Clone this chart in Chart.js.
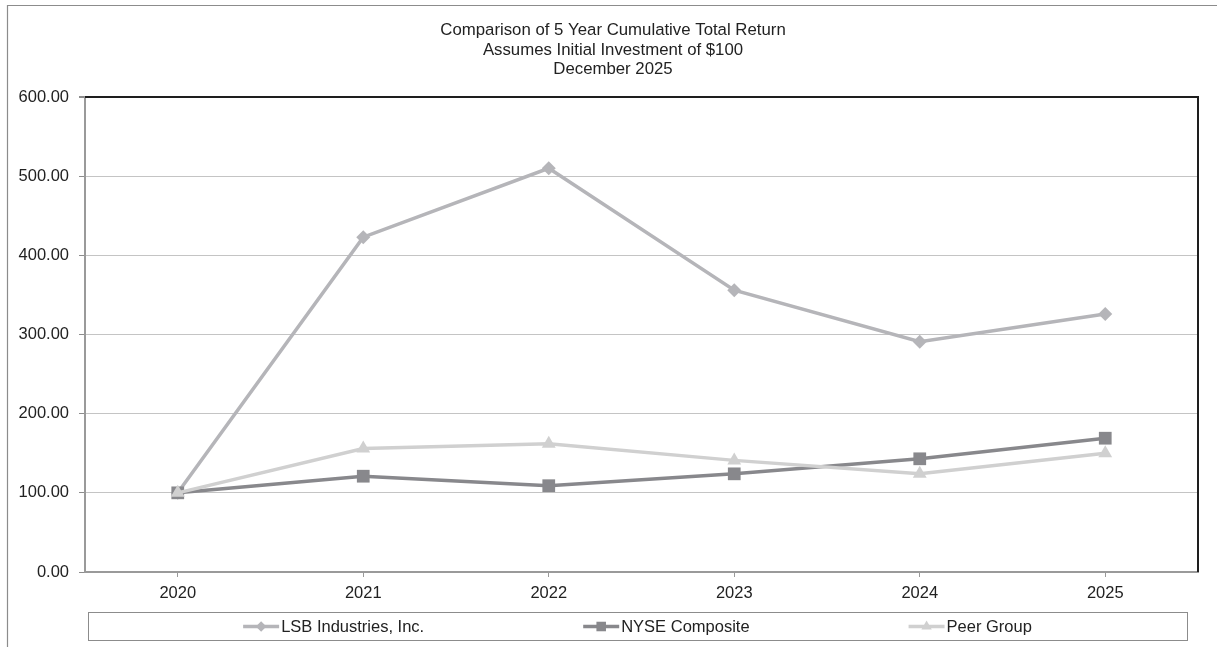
<!DOCTYPE html>
<html><head><meta charset="utf-8">
<script src="https://cdn.jsdelivr.net/npm/chart.js@4/dist/chart.umd.min.js"></script>
<style>
html,body{margin:0;padding:0;background:#fff;}
#wrap{position:absolute;left:0;top:0;width:1217px;height:647px;}
</style></head><body>
<div id="wrap"><canvas id="c"></canvas></div>
<script>
const titleLines = ['Comparison of 5 Year Cumulative Total Return', 'Assumes Initial Investment of $100', 'December 2025'];
const years = ['2020', '2021', '2022', '2023', '2024', '2025'];
const seriesNames = ['LSB Industries, Inc.', 'NYSE Composite', 'Peer Group'];
const lsbValues  = [100, 423, 510, 356, 291, 326];
const nyseValues = [100, 121, 109, 124, 143, 169];
const peerValues = [100, 156, 162, 141, 124, 150];
const yTickValues = [0, 100, 200, 300, 400, 500, 600];

const FONT = '"Liberation Sans", Arial, sans-serif';
const FS = 16.5;
const TEXT = '#222';

function drawMarker(ctx, style, r, x, y, color) {
  ctx.save();
  ctx.fillStyle = color;
  ctx.beginPath();
  if (style === 'rectRot') {
    ctx.moveTo(x, y - r); ctx.lineTo(x + r, y); ctx.lineTo(x, y + r); ctx.lineTo(x - r, y);
  } else if (style === 'rect') {
    const s = r * Math.SQRT1_2;
    ctx.rect(x - s, y - s, 2 * s, 2 * s);
  } else {
    const h = r;
    ctx.moveTo(x, y - h);
    ctx.lineTo(x + h * 0.866, y + h * 0.5);
    ctx.lineTo(x - h * 0.866, y + h * 0.5);
  }
  ctx.closePath();
  ctx.fill();
  ctx.restore();
}

const decor = {
  id: 'decor',
  afterDraw(chart) {
    const ctx = chart.ctx;
    const ca = chart.chartArea;
    ctx.save();
    // outer frame (top and left visible)
    ctx.strokeStyle = '#8c8c8c';
    ctx.lineWidth = 1.2;
    ctx.beginPath();
    ctx.moveTo(7.5, 647); ctx.lineTo(7.5, 5.5); ctx.lineTo(1217, 5.5);
    ctx.stroke();
    // dark top/right plot edge
    ctx.strokeStyle = '#1e1e1e';
    ctx.lineWidth = 2;
    ctx.beginPath();
    ctx.moveTo(ca.left, ca.top); ctx.lineTo(ca.right, ca.top); ctx.lineTo(ca.right, ca.bottom);
    ctx.stroke();
    // title
    ctx.fillStyle = TEXT;
    ctx.font = '16.8px ' + FONT;
    ctx.textAlign = 'center';
    ctx.textBaseline = 'alphabetic';
    const baselines = [35, 54.5, 73.5];
    titleLines.forEach((t, i) => ctx.fillText(t, 613, baselines[i]));
    // legend box
    ctx.font = FS + 'px ' + FONT;
    const bx = 88, by = 612, bw = 1099, bh = 28;
    ctx.strokeStyle = '#8c8c8c';
    ctx.lineWidth = 1;
    ctx.strokeRect(bx + 0.5, by + 0.5, bw, bh);
    const sampleW = 36, gap = 159;
    const ds = chart.data.datasets;
    const widths = ds.map(d => sampleW + 2 + ctx.measureText(d.label).width);
    const total = widths.reduce((a, b) => a + b, 0) + gap * (ds.length - 1);
    let x = bx + bw / 2 - total / 2;
    const cy = by + bh / 2 + 0.5;
    ctx.textAlign = 'left';
    ctx.textBaseline = 'middle';
    ds.forEach((d, i) => {
      ctx.strokeStyle = d.borderColor;
      ctx.lineWidth = 3.5;
      ctx.beginPath();
      ctx.moveTo(x, cy); ctx.lineTo(x + sampleW, cy);
      ctx.stroke();
      drawMarker(ctx, d.pointStyle, d.pointRadius * 0.75, x + sampleW / 2, cy, d.pointBackgroundColor);
      ctx.fillStyle = TEXT;
      ctx.fillText(d.label, x + sampleW + 2, cy + 1);
      x += widths[i] + gap;
    });
    ctx.restore();
  }
};

new Chart(document.getElementById('c'), {
  type: 'line',
  data: {
    labels: years,
    datasets: [
      { label: seriesNames[0], data: lsbValues, borderColor: '#b5b5b9', pointBackgroundColor: '#b5b5b9', pointBorderColor: '#b5b5b9',
        borderWidth: 3.5, pointStyle: 'rectRot', pointRadius: 7, pointBorderWidth: 0, tension: 0, order: 2 },
      { label: seriesNames[1], data: nyseValues, borderColor: '#88888c', pointBackgroundColor: '#88888c', pointBorderColor: '#88888c',
        borderWidth: 3.5, pointStyle: 'rect', pointRadius: 9, pointBorderWidth: 0, tension: 0, order: 1 },
      { label: seriesNames[2], data: peerValues, borderColor: '#d0d0d0', pointBackgroundColor: '#d0d0d0', pointBorderColor: '#d0d0d0',
        borderWidth: 3.5, pointStyle: 'triangle', pointRadius: 8, pointBorderWidth: 0, tension: 0, order: 0 }
    ]
  },
  options: {
    responsive: true,
    maintainAspectRatio: false,
    animation: false,
    devicePixelRatio: 1,
    layout: { padding: { left: 0, top: 97, right: 19, bottom: 45 } },
    plugins: { legend: { display: false }, title: { display: false }, tooltip: { enabled: false } },
    scales: {
      x: {
        offset: true,
        grid: { drawOnChartArea: false, tickLength: 5, color: '#999', offset: false },
        border: { color: '#9a9a9a', width: 2 },
        ticks: { color: TEXT, font: { family: FONT, size: FS }, padding: 7, maxRotation: 0 },
        afterFit(s) { s.height = 30; }
      },
      y: {
        min: 0, max: 600,
        afterBuildTicks(s) { s.ticks = yTickValues.map(v => ({ value: v })); },
        grid: {
          color: c => (c.tick && c.tick.value === 600) ? '#1e1e1e' : '#c4c4c4',
          lineWidth: c => (c.tick && c.tick.value === 600) ? 2 : 1,
          tickColor: '#8c8c8c', tickLength: 6
        },
        border: { color: '#9a9a9a', width: 2 },
        ticks: { color: TEXT, font: { family: FONT, size: FS }, padding: 10, callback: v => Number(v).toFixed(2) },
        afterFit(s) { s.width = 85; }
      }
    }
  },
  plugins: [decor]
});
</script>
</body></html>
